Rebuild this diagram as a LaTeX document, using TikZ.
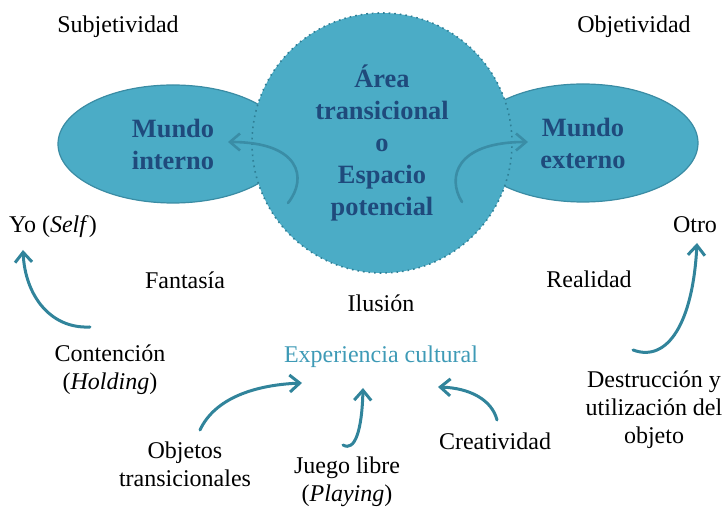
\documentclass[tikz,border=0pt]{standalone}
\usepackage{fontspec}
\setmainfont{Liberation Serif}
\usepackage{xcolor}
\usepackage{tikz}
\usetikzlibrary{positioning,%
  shapes.geometric,%
  arrows.meta,%
  calc%
}
\definecolor{flaeche}{HTML}{4BACC6}
\definecolor{rand}{HTML}{3A8CA4}
\definecolor{kreisrand}{HTML}{2F7F96}
\definecolor{schrift}{HTML}{1F4A7C}
\definecolor{pfeil}{HTML}{31849B}
\definecolor{innen}{HTML}{3A8DA6}
\definecolor{kultur}{HTML}{3E9AB6}
\begin{document}
\begin{tikzpicture}
                    [
                        x=0.5pt, y=-0.5pt,
                        txt/.style={font=\fontsize{12}{14}\selectfont, align=center, inner sep=0pt},
                        welt/.style={ellipse, fill=flaeche, draw=rand, line width=.6pt,
                            minimum width=115pt, minimum height=59pt, inner sep=0pt,
                            font=\bfseries\fontsize{13.2}{16}\selectfont, text=schrift, align=center},
                        raum/.style={circle, fill=flaeche, draw=kreisrand, dotted, line width=.8pt,
                            minimum size=130pt, inner sep=0pt,
                            font=\bfseries\fontsize{13.2}{16}\selectfont, text=schrift, align=center},
                        arr/.style={draw=pfeil, line width=1.5pt, line cap=round,
                            -{Straight Barb[length=5pt,width=8.5pt]}},
                        innenarr/.style={arr, draw=innen, line width=1.3pt}
                    ]

                    % Platzhalter
                    \path (0,0) rectangle (725,507);

                    \node[welt] (interno) at (173,144) {Mundo\\interno};
                    \node[welt] (externo) at (583,143) {Mundo\\externo};
                    \node[raum] (area) at (382,143) {Área\\transicional\\o\\Espacio\\potencial};

                    \node[txt] (subj) at (118,27) {Subjetividad};
                    \node[txt] (obj) at (634,27) {Objetividad};
                    \node[txt] (yo) at (53,227) {Yo (\textit{Self})};
                    \node[txt] (otro) at (695,225) {Otro};
                    \node[txt] (fantasia) at (185,280) {Fantasía};
                    \node[txt] (realidad) at (589,279) {Realidad};
                    \node[txt] (ilusion) at (381,303) {Ilusión};
                    \node[txt, text=kultur] (cultural) at (381,357) {Experiencia cultural};
                    \node[txt] (contencion) at (110,370) {Contención\\(\textit{Holding})};
                    \node[txt] (destruccion) at (654,410) {Destrucción y\\utilización del\\objeto};
                    \node[txt] (objetos) at (185,464) {Objetos\\transicionales};
                    \node[txt] (juego) at (347,482) {Juego libre\\(\textit{Playing})};
                    \node[txt] (creatividad) at (495,441) {Creatividad};

                    % Pfeile im Kreis
                    \draw[innenarr] ([shift={(-94,60)}]area.center) .. controls +(20,-25) and +(72,0) .. ([shift={(55,-2)}]interno.center);
                    \draw[innenarr] ([shift={(80,59)}]area.center) .. controls +(-15,-24) and +(-73,0) .. ([shift={(-55,-1)}]externo.center);

                    % Pfeile aussen
                    \draw[arr] ([shift={(-20,-43)}]contencion.center) .. controls +(-40,2) and +(2,45) .. ([shift={(-30,23)}]yo.center);
                    \draw[arr] ([shift={(-21,-60)}]destruccion.center) .. controls +(35,13) and +(-4,79) .. ([shift={(2,18)}]otro.center);
                    \draw[arr] ([shift={(15,-34)}]objetos.center) .. controls +(15,-32) and +(-47,2) .. ([shift={(-79,26)}]cultural.center);
                    \draw[arr] ([shift={(-4,-37)}]juego.center) .. controls +(12,7) and +(-1,42) .. ([shift={(-18,31)}]cultural.center);
                    \draw[arr] ([shift={(2,-21)}]creatividad.center) .. controls +(-5,-20) and +(32,1) .. ([shift={(57,30)}]cultural.center);
\end{tikzpicture}
\end{document}
